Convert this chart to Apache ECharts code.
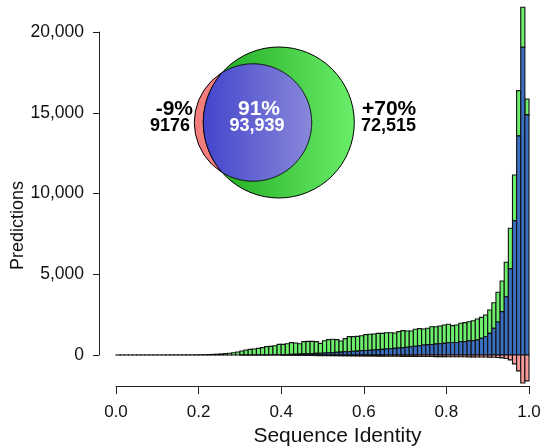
<!DOCTYPE html>
<html><head><meta charset="utf-8">
<script src="https://cdn.jsdelivr.net/npm/echarts@6/dist/echarts.min.js"></script>
<style>html,body{margin:0;padding:0;background:#fff}#c{width:542px;height:448px}</style>
</head><body><div id="c"></div>
<script>
// Histogram bins of sequence identity (lower edges), bin width 0.01
const binWidth = 0.01;
const binStart = [0.00,0.01,0.02,0.03,0.04,0.05,0.06,0.07,0.08,0.09,
  0.10,0.11,0.12,0.13,0.14,0.15,0.16,0.17,0.18,0.19,
  0.20,0.21,0.22,0.23,0.24,0.25,0.26,0.27,0.28,0.29,
  0.30,0.31,0.32,0.33,0.34,0.35,0.36,0.37,0.38,0.39,
  0.40,0.41,0.42,0.43,0.44,0.45,0.46,0.47,0.48,0.49,
  0.50,0.51,0.52,0.53,0.54,0.55,0.56,0.57,0.58,0.59,
  0.60,0.61,0.62,0.63,0.64,0.65,0.66,0.67,0.68,0.69,
  0.70,0.71,0.72,0.73,0.74,0.75,0.76,0.77,0.78,0.79,
  0.80,0.81,0.82,0.83,0.84,0.85,0.86,0.87,0.88,0.89,
  0.90,0.91,0.92,0.93,0.94,0.95,0.96,0.97,0.98,0.99];
// Predictions shared by both (blue)
const shared = [0,0,0,0,0,0,0,0,0,0,
  0,0,0,0,0,0,0,0,0,0,
  0,0,0,0,0,0,0,0,0,0,
  2,3,4,5,6,8,10,12,14,16,
  20,30,40,50,60,70,80,90,100,110,
  120,140,150,170,180,200,210,230,240,260,
  280,290,310,330,350,370,390,410,430,450,
  480,510,540,570,620,640,650,680,700,720,
  760,770,770,820,830,880,890,930,1030,1130,
  1340,1650,2040,2680,3600,5340,8310,13550,19030,14850];
// New predictions only (green, stacked on blue)
const gained = [4,4,4,4,5,5,5,5,6,6,
  6,7,7,8,8,9,10,11,12,14,
  18,22,28,38,50,65,85,110,140,190,
  248,307,346,365,404,447,505,523,561,644,
  640,670,725,690,640,755,765,755,725,610,
  765,810,820,780,685,810,925,905,915,935,
  980,990,990,1010,990,1010,990,950,1015,1055,
  1005,975,1050,1060,990,1010,1100,1070,1095,1135,
  1140,1045,1085,1140,1170,1180,1230,1295,1300,1345,
  1445,1585,1840,1900,2135,2500,2825,2800,2480,985];
// Lost predictions (red, drawn below zero)
const lost = [0,0,0,0,0,0,0,0,0,0,
  0,0,0,0,0,0,0,0,0,0,
  0,0,0,0,0,0,0,0,0,0,
  0,0,0,0,0,0,0,0,0,0,
  10,12,15,18,20,25,28,30,35,40,
  40,42,45,48,50,52,55,58,60,62,
  64,66,68,70,72,74,76,78,80,82,
  84,86,88,90,92,94,96,98,100,102,
  104,106,108,110,112,115,118,121,124,127,
  130,140,150,180,220,300,550,980,1730,1600];
const xTicks = [0.0,0.2,0.4,0.6,0.8,1.0];
const yTicks = [0,5000,10000,15000,20000];
const vennPct = ['-9%','91%','+70%'];
const vennCount = ['9176','93,939','72,515'];

const FONT = '"Liberation Sans", Arial, Helvetica, sans-serif';

function bars(name, rows, color) {
  return {
    type: 'custom', name, xAxisIndex: 0, yAxisIndex: 0, clip: false, silent: true,
    data: rows,
    encode: {x: 0, y: [1, 2]},
    renderItem(params, api) {
      const x0 = api.value(0), lo = api.value(1), hi = api.value(2);
      const a = api.coord([x0, hi]);
      const b = api.coord([x0 + binWidth, lo]);
      return {type: 'rect',
        shape: {x: a[0], y: a[1], width: b[0] - a[0], height: b[1] - a[1]},
        style: {fill: color, stroke: '#111', lineWidth: 1.1}};
    }
  };
}
const greenRows = binStart.map((x, i) => [x, shared[i], shared[i] + gained[i]]);
const blueRows = binStart.map((x, i) => [x, 0, shared[i]]).filter(r => r[2] > 0);
const redRows = binStart.map((x, i) => [x, -lost[i], 0]).filter(r => r[1] < 0);

// Venn diagram geometry (pixels)
const G = {cx: 278.8, cy: 122.5, r: 75.5};
const R = {cx: 253, cy: 122.5, r: 58.7};
function lensPoints() {
  const pts = [];
  const N = 720;
  for (let i = 0; i < N; i++) {
    const t = i / N * 2 * Math.PI;
    const p = [R.cx + R.r * Math.cos(t), R.cy + R.r * Math.sin(t)];
    if (Math.hypot(p[0] - G.cx, p[1] - G.cy) <= G.r) pts.push(p);
    const q = [G.cx + G.r * Math.cos(t), G.cy + G.r * Math.sin(t)];
    if (Math.hypot(q[0] - R.cx, q[1] - R.cy) <= R.r) pts.push(q);
  }
  const mx = ((G.cx - G.r) + (R.cx + R.r)) / 2;
  pts.sort((u, v) => Math.atan2(u[1] - R.cy, u[0] - mx) - Math.atan2(v[1] - R.cy, v[0] - mx));
  return pts;
}
const LG = echarts.graphic.LinearGradient;
function txt(s, x, y, size, align, color) {
  return {type: 'text', z: 110, style: {text: s, x, y, fill: color,
    font: 'bold ' + size + 'px ' + FONT, textAlign: align, align: align,
    textVerticalAlign: 'middle', verticalAlign: 'middle'}};
}

const chart = echarts.init(document.getElementById('c'), null, {renderer: 'canvas'});
chart.setOption({
  animation: false,
  backgroundColor: '#fff',
  grid: [
    {left: 116, right: 13, top: 5, bottom: 62, containLabel: false, outerBoundsMode: 'none'},
    {left: 99, right: 13, top: 32, bottom: 93, containLabel: false, outerBoundsMode: 'none'}
  ],
  xAxis: [
    {type: 'value', gridIndex: 0, min: 0, max: 1, interval: 0.2,
     axisLine: {show: true, onZero: false, lineStyle: {color: '#222', width: 1}},
     axisTick: {show: true, length: 8, lineStyle: {color: '#222'}},
     axisLabel: {margin: 18, fontSize: 17, fontFamily: FONT, color: '#111',
       formatter: v => xTicks.includes(+v.toFixed(1)) ? v.toFixed(1) : ''},
     splitLine: {show: false},
     name: 'Sequence Identity', nameLocation: 'middle', nameGap: 40,
     nameTextStyle: {fontSize: 21, fontFamily: FONT, color: '#111', padding: [0, 0, 0, 30]}},
    {type: 'value', gridIndex: 1, min: 0, max: 1, show: false}
  ],
  yAxis: [
    {type: 'value', gridIndex: 0, min: -1917, max: 21645, show: false, splitLine: {show: false}},
    {type: 'value', gridIndex: 1, min: 0, max: 20000, interval: 5000,
     axisLine: {show: true, lineStyle: {color: '#222', width: 1}},
     axisTick: {show: true, length: 6, lineStyle: {color: '#222'}},
     axisLabel: {margin: 15, fontSize: 17.5, fontFamily: FONT, color: '#111',
       formatter: v => yTicks.includes(v) ? v.toLocaleString('en-US') : ''},
     splitLine: {show: false},
     name: 'Predictions', nameLocation: 'middle', nameGap: 72, nameRotate: 90,
     nameMoveOverlap: false,
     nameTextStyle: {fontSize: 18, fontFamily: FONT, color: '#111', padding: [0, 64, 0, 0]}}
  ],
  series: [
    bars('new', greenRows, '#6cf06c'),
    bars('shared', blueRows, '#3a6fc2'),
    bars('lost', redRows, '#f79a9a')
  ],
  graphic: [
    {type: 'circle', z: 100, shape: {cx: R.cx, cy: R.cy, r: R.r},
     style: {fill: '#f27e7e', stroke: '#000', lineWidth: 1}},
    {type: 'circle', z: 101, shape: {cx: G.cx, cy: G.cy, r: G.r},
     style: {fill: new LG(0, 0, 1, 0, [{offset: 0, color: '#1ca51c'}, {offset: 1, color: '#6aee6a'}]),
             stroke: '#000', lineWidth: 1}},
    {type: 'polygon', z: 102, shape: {points: lensPoints()},
     style: {fill: new LG(0, 0, 1, 0, [{offset: 0, color: '#4444cc'}, {offset: 1, color: '#8888da'}]),
             stroke: '#000', lineWidth: 1}},
    txt(vennPct[0], 193, 109.5, 21, 'right', '#000'),
    txt(vennCount[0], 190, 126, 18, 'right', '#000'),
    txt(vennPct[1], 259, 109.5, 21, 'center', '#fff'),
    txt(vennCount[1], 257, 126, 18, 'center', '#fff'),
    txt(vennPct[2], 362, 109.5, 21, 'left', '#000'),
    txt(vennCount[2], 361, 126, 18, 'left', '#000')
  ]
});
</script></body></html>
